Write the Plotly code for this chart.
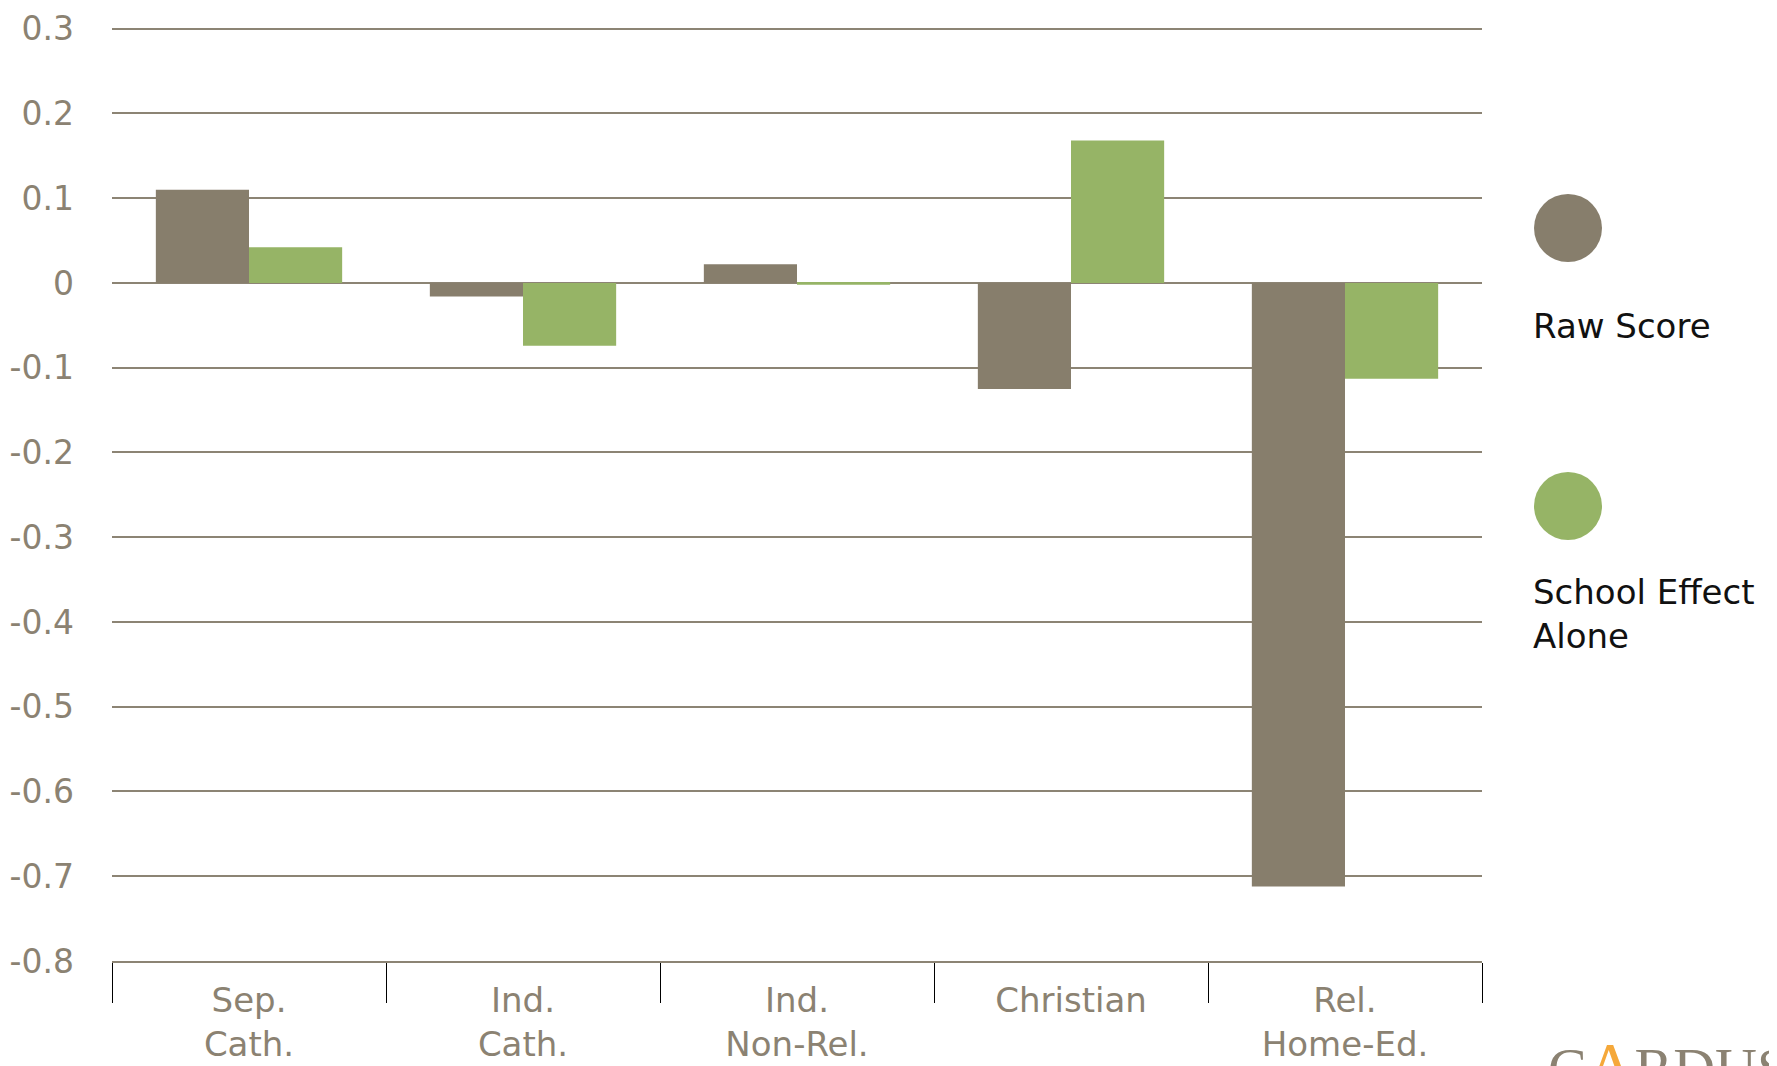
import plotly.graph_objects as go

categories = ["Sep.<br>Cath.", "Ind.<br>Cath.", "Ind.<br>Non-Rel.", "Christian", "Rel.<br>Home-Ed."]
raw_score = [0.110, -0.016, 0.022, -0.125, -0.712]
school_effect = [0.042, -0.074, -0.002, 0.168, -0.113]
y_tickvals = [0.3, 0.2, 0.1, 0, -0.1, -0.2, -0.3, -0.4, -0.5, -0.6, -0.7, -0.8]
y_ticktext = ["0.3", "0.2", "0.1", "0", "-0.1", "-0.2", "-0.3", "-0.4", "-0.5", "-0.6", "-0.7", "-0.8"]
series_names = ["Raw Score", "School Effect<br>Alone"]

RAW_C = "#877e6c"
GREEN_C = "#96b466"
TXT_C = "#8b8272"
GRID_C = "#8c8474"
FONT = "DejaVu Sans"

fig = go.Figure()
fig.add_trace(go.Bar(x=categories, y=raw_score, name=series_names[0],
                     marker=dict(color=RAW_C, line=dict(width=0))))
fig.add_trace(go.Bar(x=categories, y=school_effect, name=series_names[1],
                     marker=dict(color=GREEN_C, line=dict(width=0))))

OFF = 8  # page body margin
W, H = 1777, 1066
L, R, T, B = 112 - OFF, 295 + OFF, 27 - OFF, 105 + OFF
pw = W - L - R
ph = H - T - B

def px_x(x):
    # x given in page pixels
    return (x - OFF - L) / pw

def px_y(y):
    return (H - B - (y - OFF)) / ph

shapes = []
for cy, col in [(228, RAW_C), (506, GREEN_C)]:
    shapes.append(dict(type="circle", xref="paper", yref="paper",
                       xsizemode="pixel", ysizemode="pixel",
                       xanchor=px_x(1568), yanchor=px_y(cy),
                       x0=-34, x1=34, y0=-34, y1=34,
                       fillcolor=col, line=dict(width=0)))

annotations = [
    dict(text=series_names[0], xref="paper", yref="paper", x=px_x(1531), y=px_y(326),
         xanchor="left", yanchor="middle", showarrow=False, align="left",
         font=dict(family=FONT, size=34, color="#111111")),
    dict(text=series_names[1], xref="paper", yref="paper", x=px_x(1531), y=px_y(614),
         xanchor="left", yanchor="middle", showarrow=False, align="left",
         font=dict(family=FONT, size=34, color="#111111")),
    dict(text="C<span style='color:#f5a83a;font-size:66px'>Λ</span>RDUS", xref="paper", yref="paper",
         x=px_x(1546), y=px_y(1027), xanchor="left", yanchor="top", showarrow=False,
         font=dict(family="Liberation Serif", size=58, color="#8b8272")),
]

fig.update_layout(
    width=W, height=H,
    margin=dict(l=L, r=R, t=T, b=B, pad=0, autoexpand=False),
    paper_bgcolor="white", plot_bgcolor="white",
    barmode="group", bargap=0.32, bargroupgap=0,
    showlegend=False,
    shapes=shapes, annotations=annotations,
    font=dict(family=FONT, color=TXT_C),
)
fig.update_yaxes(range=[-0.8, 0.302], tickvals=y_tickvals, ticktext=y_ticktext,
                 automargin=False,
                 showgrid=True, gridcolor=GRID_C, gridwidth=1.5,
                 zeroline=False, showline=False, ticks="",
                 ticklabelstandoff=37,
                 tickfont=dict(family=FONT, size=33, color=TXT_C))
fig.update_xaxes(showgrid=False, showline=True, linecolor=GRID_C, linewidth=2,
                 automargin=False,
                 ticks="outside", tickson="boundaries", ticklen=40, tickwidth=1,
                 tickcolor="#000000", ticklabelstandoff=8,
                 tickfont=dict(family=FONT, size=34, color=TXT_C))

fig.write_html("out.html")
